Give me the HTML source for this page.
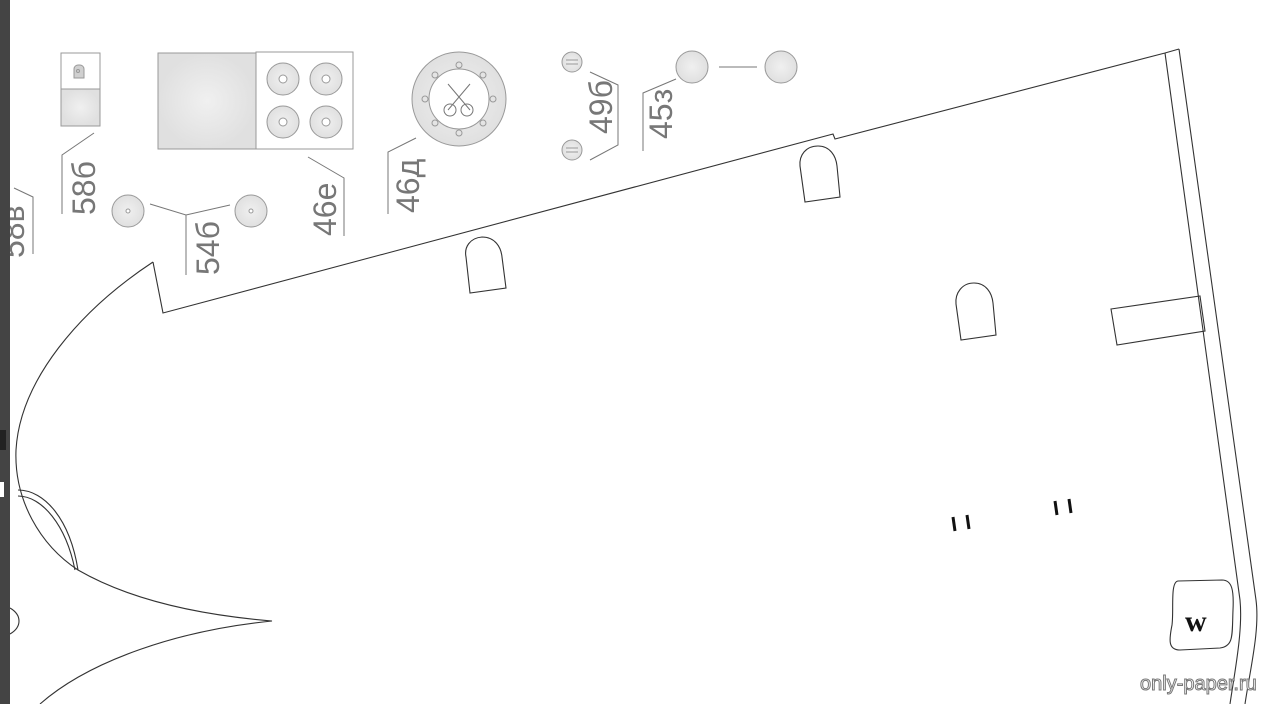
<!DOCTYPE html>
<html><head><meta charset="utf-8"><style>
html,body{margin:0;padding:0;background:#fff;width:1279px;height:704px;overflow:hidden}
svg{display:block}
text{font-family:"Liberation Sans","DejaVu Sans",sans-serif;fill:#777}
</style></head><body>
<svg width="1279" height="704" viewBox="0 0 1279 704" xmlns="http://www.w3.org/2000/svg">
<defs>
<radialGradient id="g" cx="50%" cy="50%" r="50%"><stop offset="0" stop-color="#f0f0f0"/><stop offset="1" stop-color="#e0e0e0"/></radialGradient>
</defs>

<g fill="none" stroke="#333" stroke-width="1.1">
<path d="M153,262 L163,313 L833,134 L835,139 L1165,53 L1179,49"/>
<path d="M153,262 C80,310 20,380 16,450 C14,500 40,545 78,570 C130,600 200,615 272,621 C180,630 90,660 40,704"/>
<path d="M18,490 C45,490 70,520 78,570 M18,496 C42,496 66,525 75,570"/>
<path d="M10,608 C22,615 22,627 10,634"/>
<path d="M1165,53 L1240,600 C1243,630 1235,670 1230,704"/>
<path d="M1179,49 L1256,600 C1260,630 1250,670 1245,704"/>
<path d="M1111,309 L1200,296 L1205,331 L1117,345 Z"/>
<path d="M470,293 L466,257 C464,247 470,238 482,237 C495,237 501,247 502,257 L506,288 Z"/>
<path d="M805,202 L800,166 C799,155 806,146 818,146 C830,146 836,156 837,166 L840,197 Z"/>
<path d="M961,340 L956,304 C955,293 962,283 974,283 C986,283 992,293 993,303 L996,335 Z"/>
<path d="M1178,581 L1222,580 C1232,580 1234,590 1233,610 C1232,635 1234,646 1220,648 L1180,650 C1168,650 1169,640 1172,625 C1174,610 1170,582 1178,581 Z"/>
</g>
<text x="1185" y="631" font-size="30" font-weight="bold" style="fill:#111;font-family:'Liberation Serif',serif">w</text>
<g stroke="#111" stroke-width="3">
<line x1="953" y1="517" x2="955" y2="531"/><line x1="967" y1="515" x2="969" y2="529"/>
<line x1="1055" y1="501" x2="1057" y2="515"/><line x1="1069" y1="499" x2="1071" y2="513"/>
</g>

<g stroke="#999" stroke-width="1" fill="url(#g)">
<rect x="61" y="53" width="39" height="38" fill="#fff"/>
<rect x="61" y="89" width="39" height="37"/>
<path d="M74,78 v-9 a4,4 0 0 1 4,-4 h2 a4,4 0 0 1 4,4 v9 Z" fill="#d0d0d0"/>
<circle cx="78" cy="71" r="1.5" fill="none"/>
<rect x="158" y="53" width="98" height="96"/>
<rect x="256" y="52" width="97" height="97" fill="#fff"/>
<circle cx="283" cy="79" r="16"/><circle cx="326" cy="79" r="16"/>
<circle cx="283" cy="122" r="16"/><circle cx="326" cy="122" r="16"/>
<circle cx="283" cy="79" r="4" fill="#fff"/><circle cx="326" cy="79" r="4" fill="#fff"/>
<circle cx="283" cy="122" r="4" fill="#fff"/><circle cx="326" cy="122" r="4" fill="#fff"/>
<circle cx="459" cy="99" r="47"/>
<circle cx="459" cy="99" r="30" fill="#fff"/>
<circle cx="128" cy="211" r="16"/><circle cx="251" cy="211" r="16"/>
<circle cx="128" cy="211" r="2" fill="#fff"/><circle cx="251" cy="211" r="2" fill="#fff"/>
<circle cx="572" cy="62" r="10"/><circle cx="572" cy="150" r="10"/>
<circle cx="692" cy="67" r="16"/><circle cx="781" cy="67" r="16"/>
</g>
<g fill="none" stroke="#999" stroke-width="1">
<circle cx="459" cy="65" r="3"/><circle cx="459" cy="133" r="3"/><circle cx="425" cy="99" r="3"/><circle cx="493" cy="99" r="3"/>
<circle cx="435" cy="75" r="3"/><circle cx="483" cy="75" r="3"/><circle cx="435" cy="123" r="3"/><circle cx="483" cy="123" r="3"/>
<line x1="566" y1="60" x2="578" y2="60"/><line x1="566" y1="64" x2="578" y2="64"/>
<line x1="566" y1="148" x2="578" y2="148"/><line x1="566" y1="152" x2="578" y2="152"/>
</g>
<g fill="none" stroke="#777" stroke-width="1">
<path d="M448,84 L470,110 M470,84 L448,110"/>
<circle cx="450" cy="110" r="6"/><circle cx="467" cy="110" r="6"/>
<path d="M94,133 L62,155 L62,214"/>
<path d="M308,157 L344,178 L344,236"/>
<path d="M416,138 L388,152 L388,214"/>
<path d="M150,204 L186,215 L230,205 M186,215 L186,275"/>
<path d="M590,72 L618,85 L618,145 L590,160"/>
<path d="M676,79 L643,93 L643,151"/>
<path d="M719,67 L757,67"/>
<path d="M14,188 L33,197 L33,254"/>
</g>
<g font-size="32" style="fill:#777">
<text transform="translate(95,215) rotate(-90)">58б</text>
<text transform="translate(336,236) rotate(-90)">46e</text>
<text transform="translate(419,213) rotate(-90)">46д</text>
<text transform="translate(219,275) rotate(-90)">54б</text>
<text transform="translate(612,134) rotate(-90)">49б</text>
<text transform="translate(672,139) rotate(-90)">45з</text>
<text transform="translate(24,258) rotate(-90)">58в</text>
</g>
<text x="1140" y="690" font-size="20" style="fill:#fff;stroke:#777;stroke-width:1">only-paper.ru</text>

<rect x="0" y="0" width="10" height="704" fill="#444"/>
<rect x="0" y="430" width="6" height="20" fill="#222"/>
<rect x="0" y="482" width="4" height="15" fill="#fff"/>
</svg>
</body></html>
